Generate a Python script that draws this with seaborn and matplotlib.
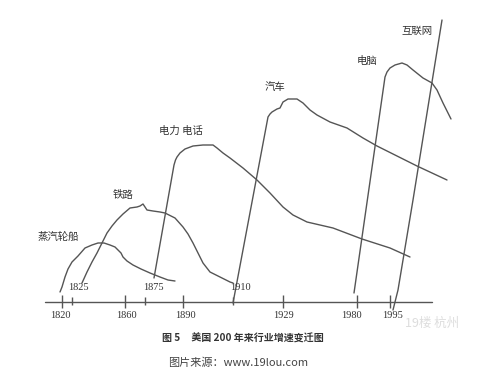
import matplotlib
matplotlib.use("Agg")
import matplotlib.pyplot as plt
import seaborn as sns
import pandas as pd

# ---- data (schematic curves; x = timeline position, y = growth level above axis) ----
steam_x = [60, 62, 65, 68, 72, 78, 85, 92, 98, 104, 110, 115, 118, 121, 123, 127, 133, 141, 150, 160, 168, 175]
steam_y = [10, 15, 25, 33, 40, 46, 54, 57, 59, 59, 57, 55, 52, 49, 45, 41, 37, 33, 29, 25, 22, 21]

rail_x = [82, 87, 92, 97, 102, 107, 112, 117, 123, 130, 137, 140, 143, 145, 147, 153, 160, 165, 175, 183, 188, 193, 198, 203, 210, 220, 230, 233]
rail_y = [19, 30, 40, 49, 59, 69, 76, 82, 88, 94, 95, 96, 98, 95, 92, 91, 90, 89, 84, 75, 68, 59, 49, 39, 30, 25, 20, 19]

elec_x = [154, 174, 175.5, 177, 180, 185, 193, 203, 213, 217, 223, 230, 243, 257, 270, 283, 293, 307, 333, 362, 390, 410]
elec_y = [24, 137, 142, 145, 149, 153, 156, 157, 157, 154, 149, 144, 134, 122, 109, 95, 87, 80, 74, 63, 54, 45]

car_x = [233, 268, 270, 272, 277, 280, 283, 288, 297, 303, 310, 317, 330, 347, 363, 377, 417, 447]
car_y = [-1, 185, 188, 190, 193, 194, 200, 203, 203, 199, 192, 187, 180, 174, 164, 156, 136, 122]

comp_x = [354, 385, 387, 390, 395, 402, 407, 413, 423, 432, 437, 443, 451]
comp_y = [9, 225, 230, 234, 237, 239, 237, 232, 224, 219, 212, 199, 183]

net_x = [442, 413, 398, 393]
net_y = [282, 102, 12, -8]

axis_start, axis_end = 45, 432
low_ticks = [62, 125, 183, 283, 357, 390]
low_label_x = [60, 126, 185, 284, 351, 393]
low_labels = ["1820", "1860", "1890", "1929", "1980", "1995"]
up_ticks = [72, 145, 233]
up_label_x = [78, 153, 240]
up_labels = ["1825", "1875", "1910"]

names = ["蒸汽轮船", "铁路", "电力 电话", "汽车", "电脑", "互联网"]
name_x = [58, 123, 181, 275, 367, 417]
name_y = [65, 107, 171, 215, 241, 271]

caption = "图 5     美国 200 年来行业增速变迁图"
source = "图片来源：www.19lou.com"

# ---- drawing ----
sns.set_theme(style="white")
plt.rcParams["font.family"] = ["Noto Sans CJK SC", "DejaVu Sans"]

fig = plt.figure(figsize=(5, 3.72), dpi=100)
ax = fig.add_axes([0, 0, 1, 1])
ax.set_xlim(0, 500)
ax.set_ylim(-70, 302)

line_color = "#555555"
curves = [(steam_x, steam_y), (rail_x, rail_y), (elec_x, elec_y),
          (car_x, car_y), (comp_x, comp_y), (net_x, net_y)]
for cx, cy in curves:
    df = pd.DataFrame({"x": cx, "y": cy})
    sns.lineplot(data=df, x="x", y="y", sort=False, estimator=None,
                 color=line_color, lw=1.0, ax=ax)
ax.axis("off")

# time axis
ax.plot([axis_start, axis_end], [0, 0], color=line_color, lw=1.0)
ax.vlines(low_ticks, -6, 7, color=line_color, lw=1.0)
ax.vlines(up_ticks, -3, 5, color=line_color, lw=1.0)

serif = ["Liberation Serif", "DejaVu Serif"]
for x, t in zip(low_label_x, low_labels):
    ax.text(x, -14, t, ha="center", va="center", fontsize=7.5,
            family=serif, color="#333333")
for x, t in zip(up_label_x, up_labels):
    ax.text(x, 14, t, ha="center", va="center", fontsize=7.5,
            family=serif, color="#333333")

for x, y, t in zip(name_x, name_y, names):
    ax.text(x, y, t, ha="center", va="center", fontsize=7.5,
            family=["Noto Sans CJK SC", "DejaVu Sans"], color="#333333")

ax.text(243, -37, caption, ha="center", va="center", fontsize=7.2,
        fontweight="bold", family=["Noto Sans CJK SC", "DejaVu Sans"], color="#333333")
ax.text(238, -61, source, ha="center", va="center", fontsize=8,
        family=["Noto Sans CJK SC", "DejaVu Sans"], color="#444444")
ax.text(432, -21, "19楼 杭州", ha="center", va="center", fontsize=9,
        family=["Noto Sans CJK SC", "DejaVu Sans"], color="#dddddd")

fig.savefig("out.png", dpi=100, facecolor="white")
